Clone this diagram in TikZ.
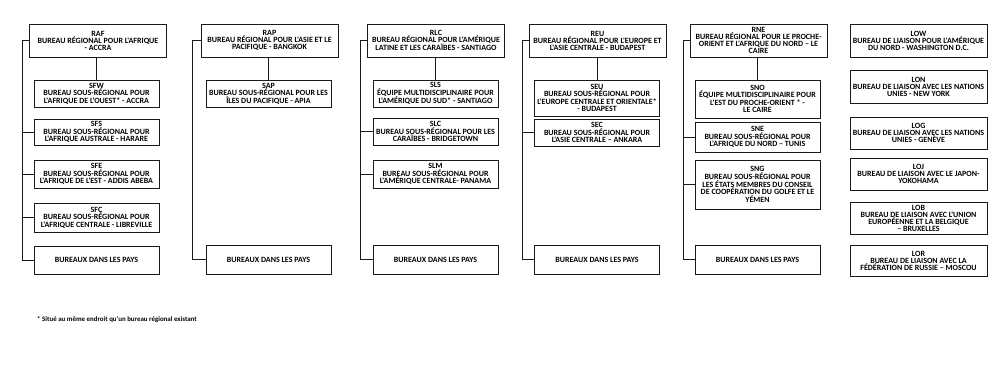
\documentclass[tikz,border=0pt]{standalone}
\usepackage{fontspec}
\setmainfont{Carlito}
\newfontfamily\boxfam{Carlito}
\begin{document}
\begin{tikzpicture}[x=1pt,y=-1pt,
  box/.style={draw=black!90, line width=0.8pt, inner sep=0pt, align=center,
    font=\boxfam\bfseries\fontsize{8.0}{7.6}\selectfont},
  topbox/.style={box, minimum width=137pt, minimum height=33pt,
    font=\boxfam\bfseries\fontsize{8.0}{7.0}\selectfont},
  subbox/.style={box, minimum width=125pt},
  liaison/.style={box, minimum width=137pt,
    font=\boxfam\bfseries\fontsize{8.0}{7.0}\selectfont},
  link/.style={draw=black!90, line width=0.8pt}]
\useasboundingbox[fill=white] (0,0) rectangle (1008,374);

% ---------- column 1 ----------
\node[topbox] (raf) at (98,40.5) {RAF\\BUREAU RÉGIONAL POUR L'AFRIQUE\\- ACCRA};
\node[subbox, minimum height=27pt] (sfw) at (96.5,93.5) {SFW\\BUREAU SOUS-RÉGIONAL POUR\\L'AFRIQUE DE L'OUEST* - ACCRA};
\node[subbox, minimum height=26pt] (sfs) at (96.5,132) {SFS\\BUREAU SOUS-RÉGIONAL POUR\\L'AFRIQUE AUSTRALE - HARARE};
\node[subbox, minimum height=28pt] (sfe) at (96.5,174) {SFE\\BUREAU SOUS-RÉGIONAL POUR\\L'AFRIQUE DE L'EST - ADDIS ABEBA};
\node[subbox, minimum height=29pt] (sfc) at (96.5,217.5) {SFC\\BUREAU SOUS-RÉGIONAL POUR\\L'AFRIQUE CENTRALE - LIBREVILLE};
\node[subbox, minimum height=28pt] (bp1) at (96.5,260) {BUREAUX DANS LES PAYS};
\coordinate (s1) at (22,0);
\draw[link] (sfw.north) -- (sfw.north |- raf.south);
\draw[link] (raf.west) -- (raf.west -| s1) |- (bp1.west);
\foreach \n in {sfs,sfe,sfc} \draw[link] (s1 |- \n.west) -- (\n.west);

% ---------- column 2 ----------
\node[topbox] (rap) at (269.5,40.5) {RAP\\BUREAU RÉGIONAL POUR L'ASIE ET LE\\PACIFIQUE - BANGKOK};
\node[subbox, minimum height=27pt] (sap) at (268.5,93.5) {SAP\\BUREAU SOUS-RÉGIONAL POUR LES\\ÎLES DU PACIFIQUE - APIA};
\node[subbox, minimum height=29pt] (bp2) at (268.5,259.5) {BUREAUX DANS LES PAYS};
\coordinate (s2) at (192,0);
\draw[link] (sap.north) -- (sap.north |- rap.south);
\draw[link] (rap.west) -- (rap.west -| s2) |- (bp2.west);

% ---------- column 3 ----------
\node[topbox] (rlc) at (436,40.5) {RLC\\BUREAU RÉGIONAL POUR L'AMÉRIQUE\\LATINE ET LES CARAÏBES - SANTIAGO};
\node[subbox, minimum height=27pt] (sls) at (435.5,93.5) {SLS\\ÉQUIPE MULTIDISCIPLINAIRE POUR\\L'AMÉRIQUE DU SUD* - SANTIAGO};
\node[subbox, minimum height=27pt] (slc) at (435.5,131.5) {SLC\\BUREAU SOUS-RÉGIONAL POUR LES\\CARAÏBES - BRIDGETOWN};
\node[subbox, minimum height=28pt] (slm) at (435.5,174) {SLM\\BUREAU SOUS-RÉGIONAL POUR\\L'AMÉRIQUE CENTRALE- PANAMA};
\node[subbox, minimum height=29pt] (bp3) at (435.5,259.5) {BUREAUX DANS LES PAYS};
\coordinate (s3) at (360,0);
\draw[link] (sls.north) -- (sls.north |- rlc.south);
\draw[link] (rlc.west) -- (rlc.west -| s3) |- (bp3.west);
\foreach \n in {slc,slm} \draw[link] (s3 |- \n.west) -- (\n.west);

% ---------- column 4 ----------
\node[topbox] (reu) at (597.5,40.5) {REU\\BUREAU RÉGIONAL POUR L'EUROPE ET\\L'ASIE CENTRALE - BUDAPEST};
\node[subbox, minimum height=36pt] (seu) at (597,98) {SEU\\BUREAU SOUS-RÉGIONAL POUR\\L'EUROPE CENTRALE ET ORIENTALE*\\- BUDAPEST};
\node[subbox, minimum height=27pt] (sec) at (597,132.5) {SEC\\BUREAU SOUS-RÉGIONAL POUR\\L'ASIE CENTRALE – ANKARA};
\node[subbox, minimum height=29pt] (bp4) at (597,259.5) {BUREAUX DANS LES PAYS};
\coordinate (s4) at (522,0);
\draw[link] (seu.north) -- (seu.north |- reu.south);
\draw[link] (reu.west) -- (reu.west -| s4) |- (bp4.west);
\draw[link] (s4 |- sec.west) -- (sec.west);

% ---------- column 5 ----------
\node[topbox] (rne) at (758.5,40.5) {RNE\\BUREAU RÉGIONAL POUR LE PROCHE-\\ORIENT ET L'AFRIQUE DU NORD – LE\\CAIRE};
\node[subbox, minimum height=38pt] (sno) at (757.5,99) {SNO\\ÉQUIPE MULTIDISCIPLINAIRE POUR\\L'EST DU PROCHE-ORIENT * -\\LE CAIRE};
\node[subbox, minimum height=30pt] (sne) at (757.5,137) {SNE\\BUREAU SOUS-RÉGIONAL POUR\\L'AFRIQUE DU NORD – TUNIS};
\node[subbox, minimum height=49pt] (sng) at (757.5,184.5) {SNG\\BUREAU SOUS-RÉGIONAL POUR\\LES ÉTATS MEMBRES DU CONSEIL\\DE COOPÉRATION DU GOLFE ET LE\\YÉMEN};
\node[subbox, minimum height=29pt] (bp5) at (757.5,259.5) {BUREAUX DANS LES PAYS};
\coordinate (s5) at (683,0);
\draw[link] (sno.north) -- (sno.north |- rne.south);
\draw[link] (rne.west) -- (rne.west -| s5) |- (bp5.west);
\foreach \n in {sne,sng} \draw[link] (s5 |- \n.west) -- (\n.west);

% ---------- column 6 ----------
\node[liaison, minimum height=33pt] (low) at (918.5,40.5) {LOW\\BUREAU DE LIAISON POUR L'AMÉRIQUE\\DU NORD - WASHINGTON D.C.};
\node[liaison, minimum height=33pt] (lon) at (918.5,86.5) {LON\\BUREAU DE LIAISON AVEC LES NATIONS\\UNIES - NEW YORK};
\node[liaison, minimum height=32pt] (log) at (918.5,133) {LOG\\BUREAU DE LIAISON AVEC LES NATIONS\\UNIES - GENÈVE};
\node[liaison, minimum height=32pt] (loj) at (918.5,174) {LOJ\\BUREAU DE LIAISON AVEC LE JAPON-\\YOKOHAMA};
\node[liaison, minimum height=32pt] (lob) at (918.5,218) {LOB\\BUREAU DE LIAISON AVEC L'UNION\\EUROPÉENNE ET LA BELGIQUE\\– BRUXELLES};
\node[liaison, minimum height=31pt] (lor) at (918.5,260.5) {LOR\\BUREAU DE LIAISON AVEC LA\\FÉDÉRATION DE RUSSIE – MOSCOU};

% ---------- footnote ----------
\node[anchor=west, inner sep=0pt, font=\boxfam\bfseries\fontsize{6.9}{7}\selectfont] (fn) at (37,320) {* Situé au même endroit qu'un bureau régional existant};
\end{tikzpicture}
\end{document}
